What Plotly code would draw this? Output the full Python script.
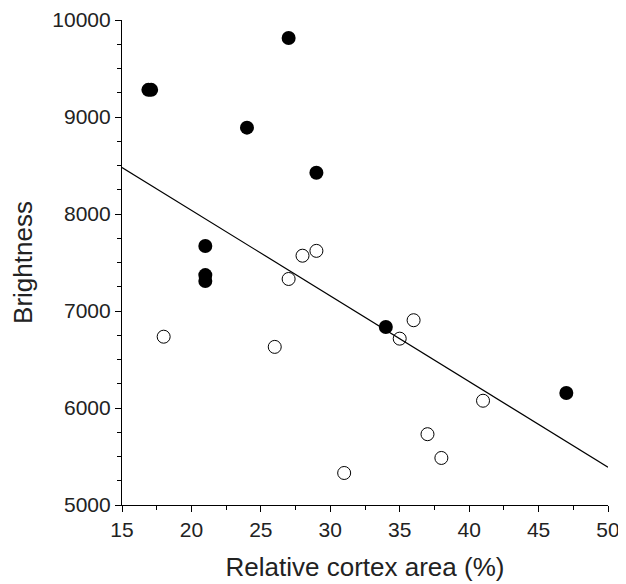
import plotly.graph_objects as go

# Filled points
filled_x = [16.9, 17.1, 27, 24, 29, 21, 21, 21, 34, 47]
filled_y = [9280, 9280, 9815, 8890, 8425, 7670, 7370, 7310, 6835, 6155]
# Open points
open_x = [18, 26, 27, 28, 29, 31, 35, 36, 37, 38, 41]
open_y = [6735, 6630, 7330, 7570, 7620, 5330, 6715, 6905, 5730, 5485, 6075]
# Regression line end points
fit_x = [15, 50]
fit_y = [8480, 5390]

font = "Liberation Sans, Arial, sans-serif"

fig = go.Figure()
fig.add_trace(go.Scatter(x=fit_x, y=fit_y, mode="lines",
                         line=dict(color="black", width=1.2), showlegend=False,
                         cliponaxis=False))
fig.add_trace(go.Scatter(x=filled_x, y=filled_y, mode="markers",
                         marker=dict(symbol="circle", size=14, color="black",
                                     line=dict(width=0)), showlegend=False))
fig.add_trace(go.Scatter(x=open_x, y=open_y, mode="markers",
                         marker=dict(symbol="circle-open", size=13, color="black",
                                     line=dict(width=1)), showlegend=False))

# page body has an 8px margin, so the figure is shrunk by 8px and margins shifted
fig.update_layout(
    width=618, height=576,
    margin=dict(l=114, r=18, t=12, b=79),
    plot_bgcolor="white", paper_bgcolor="white",
    font=dict(family=font, color="#222", size=21),
)
fig.update_xaxes(range=[15, 50], dtick=5, tick0=15, showgrid=False, zeroline=False,
                 automargin=False,
                 showline=True, linecolor="black", linewidth=1.2,
                 ticks="outside", ticklen=6, tickcolor="black",
                 minor=dict(dtick=2.5, ticks="outside", ticklen=4, tickcolor="black"),
                 tickfont=dict(size=21),
                 title=dict(text="Relative cortex area (%)", font=dict(size=26), standoff=17))
fig.update_yaxes(range=[5000, 10000], dtick=1000, showgrid=False, zeroline=False,
                 automargin=False,
                 showline=True, linecolor="black", linewidth=1.2,
                 ticks="outside", ticklen=6, tickcolor="black",
                 minor=dict(dtick=250, ticks="outside", ticklen=4, tickcolor="black"),
                 tickformat="d", tickfont=dict(size=21),
                 title=dict(text="Brightness", font=dict(size=26), standoff=14))

fig.write_html("out.html")
